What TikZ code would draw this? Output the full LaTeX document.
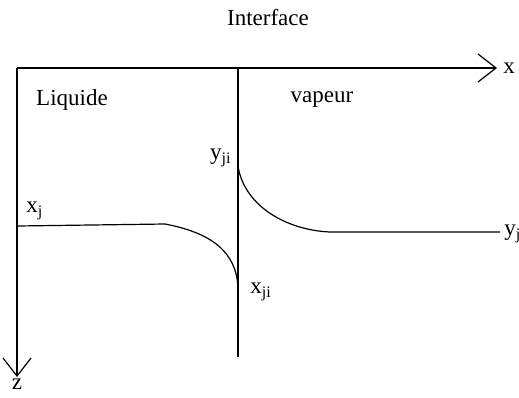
\documentclass[tikz,border=0pt]{standalone}
\usepackage{fontspec}
\setmainfont{Liberation Serif}
\usetikzlibrary{arrows.meta, positioning, calc}

\tikzset{
    axe/.style={line width=0.6pt, -{Straight Barb[length=9pt, width=14pt, line width=0.6pt]}},
    trait/.style={line width=0.6pt},
    lbl/.style={inner sep=1pt, font=\fontsize{11.5}{13}\selectfont}
}

\begin{document}
\begin{tikzpicture}[x=0.5pt, y=-0.5pt]
    \useasboundingbox (0, 0) rectangle (519, 397);
    % axes x et z
    \coordinate (O) at (17, 68);
    \coordinate (xfin) at (497, 68);
    \coordinate (zfin) at (17, 377);
    \draw[axe] (O) -- (xfin);
    \draw[axe] (O) -- (zfin);
    \node[lbl, right=2pt of xfin] (x) {x};
    \node[lbl, anchor=north, inner sep=0pt, text height=1ex, text depth=0pt, below=1.5pt of zfin] (z) {z};
    % interface
    \coordinate (Itop) at (238, 68);
    \coordinate (Ibas) at (238, 357);
    \draw[trait] (Itop) -- (Ibas);
    \node[lbl] (interface) at (268, 18) {Interface};
    \node[lbl] (liquide) at (72, 100) {Liquide};
    \node[lbl] (vapeur) at (322, 100) {vapeur};
    % profil cote vapeur : de y_ji vers y_j
    \coordinate (yji) at (238, 166);
    \coordinate (ycoude) at (330, 232);
    \coordinate (yfin) at (500, 232);
    \draw[trait] (yji) .. controls (244, 205) and (285, 230) .. (ycoude) -- (yfin);
    \node[lbl, anchor=east] (lyji) at (234, 158) {y\textsubscript{ji}};
    \node[lbl, anchor=west] (lyj) at (502, 234) {y\textsubscript{j}};
    % profil cote liquide : de x_j vers x_ji
    \coordinate (xj) at (17, 226);
    \coordinate (xcoude) at (165, 224);
    \coordinate (xji) at (238, 287);
    \draw[trait] (xj) -- (xcoude) .. controls (212, 233) and (236, 252) .. (xji);
    \node[lbl, anchor=south west] (lxj) at (24, 222) {x\textsubscript{j}};
    \node[lbl, anchor=west] (lxji) at (248, 292) {x\textsubscript{ji}};
\end{tikzpicture}
\end{document}
